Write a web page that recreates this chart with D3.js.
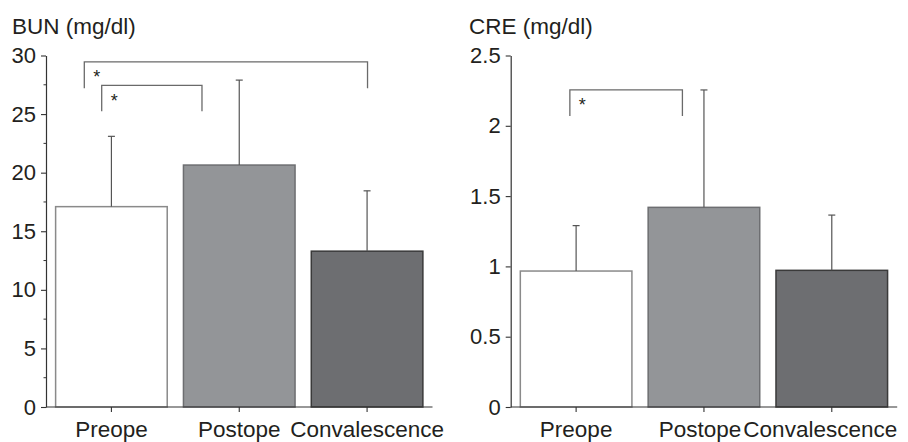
<!DOCTYPE html>
<html>
<head>
<meta charset="utf-8">
<script src="https://cdn.jsdelivr.net/npm/d3@7/dist/d3.min.js"></script>
<style>
  body { margin: 0; background: #fff; }
  svg { display: block; font-family: "Liberation Sans", Arial, sans-serif; }
  text { fill: #231f20; }
</style>
</head>
<body>
<div id="chart"></div>
<script>
// categories shared by both panels
var categories = ["Preope", "Postope", "Convalescence"];

// BUN panel
var bunMean = [17.1, 20.65, 13.3];
var bunSD = [23.1, 27.9, 18.45];   // top of error bar
var bunTicks = [0, 5, 10, 15, 20, 25, 30];
var bunMinorTicks = [2.5, 7.5, 12.5, 17.5, 22.5, 27.5];
var bunSig = [
  { from: "Preope", to: "Convalescence", top: 29.45, bottom: 27.2 },
  { from: "Preope", to: "Postope", top: 27.45, bottom: 25.25 }
];

// CRE panel
var creMean = [0.967, 1.42, 0.972];
var creSD = [1.29, 2.255, 1.365];
var creTicks = [0, 0.5, 1, 1.5, 2, 2.5];
var creSig = [
  { from: "Preope", to: "Postope", top: 2.255, bottom: 2.07 }
];

var fills = ["#ffffff", "#939598", "#6d6e71"];
var strokes = ["#8a8a8a", "#6d6e71", "#3a3a3a"];

var svg = d3.select("#chart").append("svg")
    .attr("width", 908)
    .attr("height", 442);

// draw one panel
// brk = where the bracket ends sit inside the bands (fraction of bandwidth)
function drawPanel(opt) {
  var g = svg.append("g").attr("transform", "translate(" + opt.left + ",0)");

  var x = d3.scaleBand()
      .domain(categories)
      .range([1.5, 385])
      .paddingInner(0.127)
      .paddingOuter(0.0635);

  var y = d3.scaleLinear()
      .domain([0, opt.max])
      .range([407, 55.5]);

  // title
  g.append("text")
    .attr("x", opt.titleX)
    .attr("y", 33.5)
    .style("font-size", "22.5px")
    .text(opt.title);

  // bars
  g.selectAll(".bar")
      .data(opt.mean)
    .enter().append("rect")
      .attr("class", "bar")
      .attr("x", function(d, i) { return x(categories[i]); })
      .attr("y", function(d) { return y(d); })
      .attr("width", x.bandwidth())
      .attr("height", function(d) { return y(0) - y(d); })
      .attr("fill", function(d, i) { return fills[i]; })
      .attr("stroke", function(d, i) { return strokes[i]; })
      .attr("stroke-width", 1.5);

  // error bars
  var err = g.selectAll(".err")
      .data(opt.sd)
    .enter().append("g")
      .attr("class", "err")
      .attr("stroke", "#555")
      .attr("stroke-width", 1.2);
  err.append("line")
    .attr("x1", function(d, i) { return x(categories[i]) + x.bandwidth() / 2; })
    .attr("x2", function(d, i) { return x(categories[i]) + x.bandwidth() / 2; })
    .attr("y1", function(d, i) { return y(opt.mean[i]); })
    .attr("y2", function(d) { return y(d); });
  err.append("line")
    .attr("x1", function(d, i) { return x(categories[i]) + x.bandwidth() / 2 - 3.5; })
    .attr("x2", function(d, i) { return x(categories[i]) + x.bandwidth() / 2 + 3.5; })
    .attr("y1", function(d) { return y(d); })
    .attr("y2", function(d) { return y(d); });

  // y axis
  var yAxis = g.append("g")
      .call(d3.axisLeft(y).tickValues(opt.ticks).tickSize(5).tickSizeOuter(0)
        .tickFormat(d3.format("")));
  yAxis.select(".domain").attr("stroke", "#333").attr("stroke-width", 1.2);
  yAxis.selectAll(".tick line").attr("stroke", "#333").attr("stroke-width", 1.1);
  yAxis.selectAll(".tick text")
    .attr("x", -10)
    .style("font-size", "22px")
    .attr("fill", "#231f20");

  if (opt.minor) {
    g.selectAll(".minor")
        .data(opt.minor)
      .enter().append("line")
        .attr("x1", -2.5)
        .attr("x2", 0)
        .attr("y1", function(d) { return y(d); })
        .attr("y2", function(d) { return y(d); })
        .attr("stroke", "#333")
        .attr("stroke-width", 1);
  }

  // x axis
  var xAxis = g.append("g")
      .attr("transform", "translate(0,407)")
      .call(d3.axisBottom(x).tickSize(5).tickSizeOuter(0));
  xAxis.select(".domain").attr("stroke", "#333").attr("stroke-width", 1.2)
    .attr("d", "M0,0H" + 386.5);
  xAxis.selectAll(".tick line").attr("stroke", "#333").attr("stroke-width", 1.1);
  xAxis.selectAll(".tick text")
    .attr("y", 14)
    .attr("dx", function(d, i) { return opt.labelShift[i]; })
    .style("font-size", "22.5px")
    .attr("fill", "#231f20");

  // significance brackets
  opt.sig.forEach(function(s, i) {
    var x1 = x(s.from) + opt.brk[i][0] * x.bandwidth();
    var x2 = x(s.to) + opt.brk[i][1] * x.bandwidth();
    g.append("path")
      .attr("d", "M" + x1 + "," + y(s.bottom) + "V" + y(s.top) + "H" + x2 + "V" + y(s.bottom))
      .attr("fill", "none")
      .attr("stroke", "#6a6a6a")
      .attr("stroke-width", 1.3);
    g.append("text")
      .attr("x", x1 + 12.5)
      .attr("y", y(s.top) + 21.5)
      .attr("text-anchor", "middle")
      .style("font-size", "18px")
      .text("*");
  });
}

drawPanel({
  left: 46, title: "BUN (mg/dl)", titleX: -34, max: 30,
  mean: bunMean, sd: bunSD, ticks: bunTicks, minor: bunMinorTicks,
  sig: bunSig, brk: [[0.257, 0.504], [0.413, 0.166]], labelShift: [0, 0, 0]
});

drawPanel({
  left: 510.7, title: "CRE (mg/dl)", titleX: -41.7, max: 2.5,
  mean: creMean, sd: creSD, ticks: creTicks, minor: null,
  sig: creSig, brk: [[0.444, 0.307]], labelShift: [0, -4, -11.5]
});
</script>
</body>
</html>
